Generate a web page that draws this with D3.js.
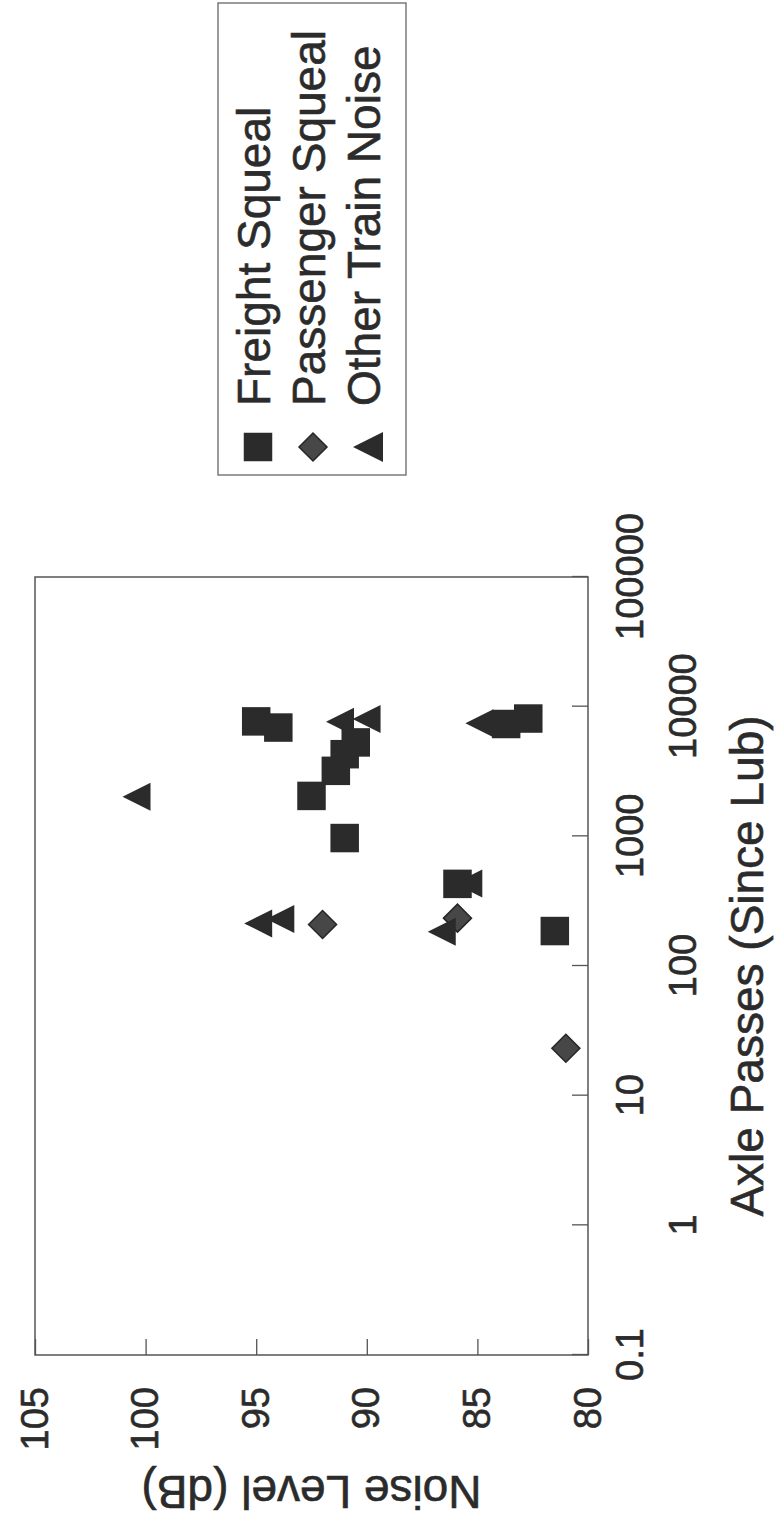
<!DOCTYPE html>
<html>
<head>
<meta charset="utf-8">
<script src="https://cdn.jsdelivr.net/npm/d3@7"></script>
<style>
  body { margin: 0; background: #fff; }
  svg { display: block; font-family: "Liberation Sans", Arial, sans-serif; }
  svg text { stroke: #2b2b2b; stroke-width: 0.6px; }
</style>
</head>
<body>
<svg></svg>
<script>
// data (axle passes since lubrication, noise level in dB)
let freightPasses = [7700, 6900, 2050, 3200, 4300, 5300, 970, 430, 7350, 8100, 186];
let freightNoise = [95.0, 94.0, 92.5, 91.4, 91.0, 90.5, 91.0, 85.9, 83.7, 82.7, 81.5];

let passengerPasses = [209, 234, 23.2];
let passengerNoise = [92.0, 85.9, 81.0];

let otherPasses = [2020, 7650, 8050, 213, 230, 184, 7450, 433];
let otherNoise = [100.2, 91.0, 89.8, 94.7, 93.7, 86.4, 84.7, 85.2];

let xTicks = [0.1, 1, 10, 100, 1000, 10000, 100000];
let xTickLabels = ["0.1", "1", "10", "100", "1000", "10000", "100000"];
let yTicks = [80, 85, 90, 95, 100, 105];

let seriesNames = ["Freight Squeal", "Passenger Squeal", "Other Train Noise"];

// page is portrait, the chart is printed turned a quarter turn
let pageWidth = 774;
let pageHeight = 1522;

let plot = { left: 167, right: 945, top: 35, bottom: 588 };

let ink = "#2b2b2b";
let xScale, yScale;

let svg = d3.select("svg");
let chart;

// marker shapes
let triangleShape = {
  draw(context, size) {
    let s = Math.sqrt(size);
    context.moveTo(0, (-2 * s) / 3);
    context.lineTo(s / 2, s / 3);
    context.lineTo(-s / 2, s / 3);
    context.closePath();
  },
};
let diamondShape = {
  draw(context, size) {
    let r = Math.sqrt(size) / 2;
    context.moveTo(0, -r);
    context.lineTo(r, 0);
    context.lineTo(0, r);
    context.lineTo(-r, 0);
    context.closePath();
  },
};

let squarePath = d3.symbol().type(d3.symbolSquare).size(28.5 * 28.5)();
let diamondPath = d3.symbol().type(diamondShape).size(28 * 28)();
let trianglePath = d3.symbol().type(triangleShape).size(28 * 28)();
let legendTrianglePath = d3.symbol().type(triangleShape).size(30 * 30)();

function drawCanvas() {
  svg.attr("width", pageWidth).attr("height", pageHeight);
  svg.append("rect").attr("width", pageWidth).attr("height", pageHeight).attr("fill", "#fff");
  chart = svg.append("g").attr("transform", `translate(0, ${pageHeight}) rotate(-90)`);
}

function generateScales() {
  xScale = d3.scaleLog().domain([0.1, 100000]).range([plot.left, plot.right]);
  yScale = d3.scaleLinear().domain([80, 105]).range([plot.bottom, plot.top]);
}

function generateAxes() {
  let yAxis = d3.axisLeft(yScale).tickValues(yTicks).tickSize(-16).tickPadding(32).tickFormat(d3.format("d"));
  let gy = chart.append("g").attr("transform", `translate(${plot.left}, 0)`).call(yAxis);
  gy.select(".domain").remove();
  gy.selectAll(".tick line").attr("stroke", "#555").attr("stroke-width", 1.3);
  gy.selectAll(".tick text").style("font-size", "38px").attr("fill", ink);

  let xAxis = d3.axisBottom(xScale).tickValues(xTicks).tickSize(-16).tickFormat((d, i) => xTickLabels[i]);
  let gx = chart.append("g").attr("transform", `translate(0, ${plot.bottom})`).call(xAxis);
  gx.select(".domain").remove();
  gx.selectAll(".tick line").attr("stroke", "#555").attr("stroke-width", 1.3);
  // labels alternate between two rows
  gx.selectAll(".tick text")
    .style("font-size", "38px")
    .attr("fill", ink)
    .attr("y", (d, i) => (i % 2 === 0 ? 28 : 81));

  chart
    .append("rect")
    .attr("x", plot.left)
    .attr("y", plot.top)
    .attr("width", plot.right - plot.left)
    .attr("height", plot.bottom - plot.top)
    .attr("fill", "none")
    .attr("stroke", "#555")
    .attr("stroke-width", 1.5);

  chart
    .append("text")
    .attr("x", (plot.left + plot.right) / 2)
    .attr("y", 747)
    .attr("dy", "0.35em")
    .style("text-anchor", "middle")
    .style("font-size", "46px")
    .attr("fill", ink)
    .text("Axle Passes (Since Lub)");

  chart
    .append("text")
    .attr("transform", `translate(30, ${(plot.top + plot.bottom) / 2}) rotate(-90)`)
    .attr("dy", "0.35em")
    .style("text-anchor", "middle")
    .style("font-size", "46px")
    .attr("fill", ink)
    .text("Noise Level (dB)");
}

function drawPoints() {
  let pts = chart.append("g");
  pts
    .selectAll(".diamond")
    .data(d3.zip(passengerPasses, passengerNoise))
    .enter()
    .append("path")
    .attr("d", diamondPath)
    .attr("transform", (d) => `translate(${xScale(d[0])}, ${yScale(d[1])})`)
    .attr("fill", "#474747")
    .attr("stroke", "#262626")
    .attr("stroke-width", 1.5);

  pts
    .selectAll(".triangle")
    .data(d3.zip(otherPasses, otherNoise))
    .enter()
    .append("path")
    .attr("d", trianglePath)
    .attr("transform", (d) => `translate(${xScale(d[0])}, ${yScale(d[1])})`)
    .attr("fill", ink);

  pts
    .selectAll(".square")
    .data(d3.zip(freightPasses, freightNoise))
    .enter()
    .append("path")
    .attr("d", squarePath)
    .attr("transform", (d) => `translate(${xScale(d[0])}, ${yScale(d[1])})`)
    .attr("fill", ink);
}

function drawLegend() {
  let lg = chart.append("g");
  lg.append("rect")
    .attr("x", 1047)
    .attr("y", 218)
    .attr("width", 472)
    .attr("height", 188)
    .attr("fill", "#fff")
    .attr("stroke", "#666")
    .attr("stroke-width", 1.3);

  let shapes = [squarePath, diamondPath, legendTrianglePath];
  let symbolY = [258, 313, 373];
  let textY = [270, 325, 380];
  seriesNames.forEach((name, i) => {
    lg.append("path")
      .attr("d", shapes[i])
      .attr("transform", `translate(1075, ${symbolY[i]})`)
      .attr("fill", i === 1 ? "#474747" : ink)
      .attr("stroke", i === 1 ? "#262626" : "none")
      .attr("stroke-width", 1.5);
    lg.append("text")
      .attr("x", 1116)
      .attr("y", textY[i])
      .style("font-size", "46px")
      .attr("fill", ink)
      .text(name);
  });
}

drawCanvas();
generateScales();
generateAxes();
drawPoints();
drawLegend();
</script>
</body>
</html>
